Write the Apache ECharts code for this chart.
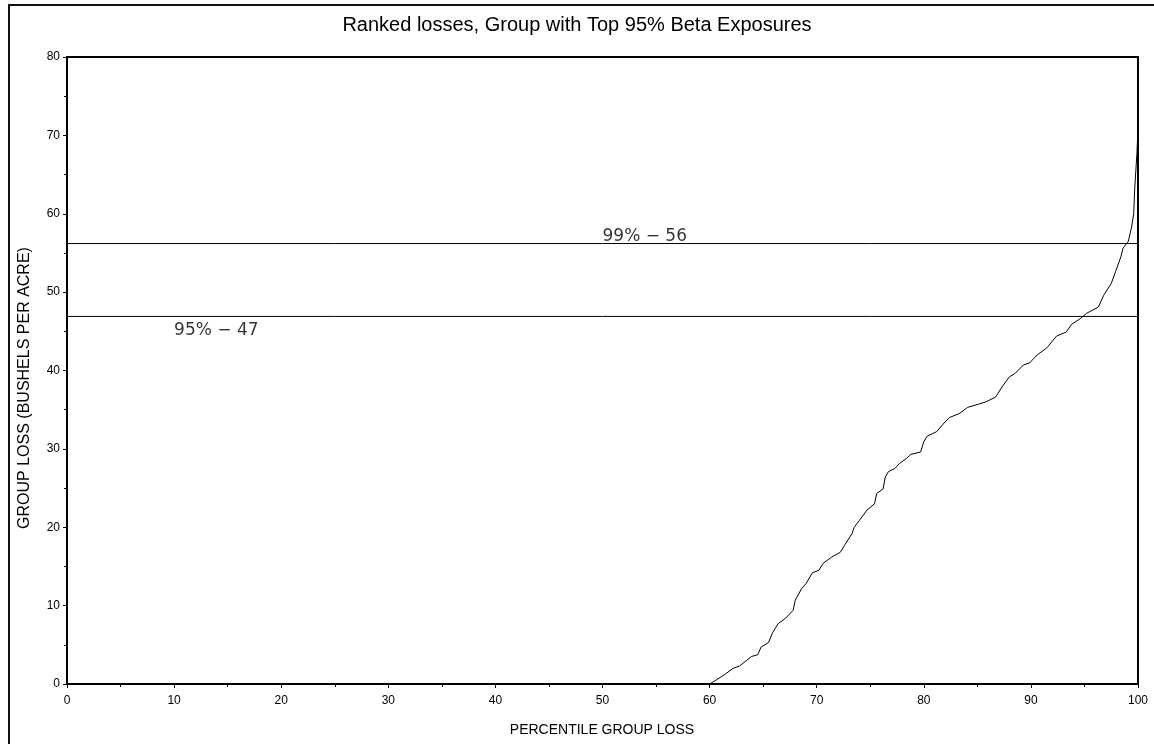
<!DOCTYPE html>
<html>
<head>
<meta charset="utf-8">
<script src="https://cdn.jsdelivr.net/npm/echarts@6/dist/echarts.min.js"></script>
<style>
  html, body { margin: 0; padding: 0; background: #fff; }
  #chart { width: 1154px; height: 744px; }
</style>
</head>
<body>
<div id="chart"></div>
<script>
// ---- data ----
const titleText = 'Ranked losses, Group with Top 95% Beta Exposures';
const xAxisTitle = 'PERCENTILE GROUP LOSS';
const yAxisTitle = 'GROUP LOSS (BUSHELS PER ACRE)';

const percentile = [0, 60, 60.6, 61.4, 62.2, 62.8, 63.9, 64.5, 64.8, 65.5,
  65.9, 66.4, 67.1, 67.8, 68.0, 68.6, 69.0, 69.6, 70.2, 70.6,
  71.4, 72.2, 72.6, 73.3, 73.5, 74.0, 74.7, 75.4, 75.6, 76.2,
  76.4, 76.7, 77.3, 77.7, 78.4, 78.8, 79.7, 80.0, 80.3, 81.2,
  81.9, 82.4, 83.3, 84.1, 85.1, 85.8, 86.7, 87.3, 88.0, 88.5,
  89.3, 89.9, 90.6, 91.5, 92.4, 93.3, 93.8, 94.6, 95.2, 96.3,
  96.8, 97.5, 97.9, 98.4, 98.6, 99.1, 99.4, 99.6, 99.7, 99.9, 100];
const groupLoss = [0, 0, 0.5, 1.2, 2.0, 2.3, 3.5, 3.75, 4.7, 5.3,
  6.6, 7.7, 8.4, 9.4, 10.7, 12.2, 12.8, 14.2, 14.5, 15.4,
  16.2, 16.8, 17.7, 19.2, 20.0, 20.9, 22.2, 23.0, 24.3, 24.9,
  26.4, 27.1, 27.5, 28.1, 28.8, 29.3, 29.6, 30.9, 31.6, 32.2,
  33.3, 34.0, 34.5, 35.3, 35.7, 36.0, 36.6, 37.9, 39.2, 39.6,
  40.7, 41.0, 42.0, 42.9, 44.4, 44.9, 45.9, 46.6, 47.3, 48.1,
  49.6, 51.1, 52.6, 54.5, 55.6, 56.5, 58.3, 60.0, 63.4, 67.7, 71];

const refLevels = [56.2, 46.9];
const refLabels = ['99% \u2212 56', '95% \u2212 47'];
const refLabelX = [50, 10];

// ---- chart ----
const chart = echarts.init(document.getElementById('chart'), null, { renderer: 'canvas' });

const curve = percentile.map((p, i) => [p, groupLoss[i]]);

const refSeries = refLevels.map((lv, i) => ({
  type: 'line',
  data: [[0, lv], [100, lv]],
  symbol: 'none',
  silent: true,
  lineStyle: { color: '#000', width: 1 },
  z: 3
}));

const labelFont = { color: '#000', fontFamily: 'DejaVu Sans', fontSize: 17 };
const labelSeries = {
  type: 'scatter',
  symbolSize: 0,
  silent: true,
  data: refLabels.map((t, i) => ({
    value: [refLabelX[i], refLevels[i]],
    label: Object.assign({}, labelFont, i === 0
      ? { show: true, formatter: t, position: 'top', distance: -2, align: 'left', verticalAlign: 'bottom' }
      : { show: true, formatter: t, position: 'bottom', distance: 6, align: 'left', verticalAlign: 'top' })
  })),
  label: labelFont,
  z: 4
};

const axisCommon = {
  type: 'value',
  axisLine: { show: true, lineStyle: { color: '#000', width: 2 } },
  axisTick: { show: true, inside: false, length: 4, lineStyle: { color: '#000', width: 1 } },
  minorTick: { show: true, splitNumber: 2, length: 3, lineStyle: { color: '#000', width: 1 } },
  splitLine: { show: false },
  axisLabel: { color: '#000', fontFamily: 'Liberation Sans', fontSize: 12 }
};

chart.setOption({
  animation: false,
  backgroundColor: '#fff',
  title: {
    text: titleText,
    left: 'center',
    top: 10,
    textStyle: { fontFamily: 'Liberation Sans', fontSize: 20, fontWeight: 'normal', color: '#000' }
  },
  grid: {
    left: 67, right: 16, top: 57, bottom: 60,
    show: true, borderColor: '#000', borderWidth: 2, backgroundColor: 'transparent'
  },
  xAxis: Object.assign({}, axisCommon, {
    min: 0, max: 100, interval: 10,
    axisLabel: Object.assign({}, axisCommon.axisLabel, { margin: 11 })
  }),
  yAxis: Object.assign({}, axisCommon, {
    min: 0, max: 80, interval: 10,
    axisLabel: Object.assign({}, axisCommon.axisLabel, { margin: 7 })
  }),
  graphic: [
    {
      type: 'rect',
      shape: { x: 9, y: 5, width: 1300, height: 900 },
      style: { fill: null, stroke: '#111', lineWidth: 2 },
      silent: true
    },
    {
      type: 'text',
      x: 602, y: 730,
      style: { text: xAxisTitle, fontFamily: 'Liberation Sans', fontSize: 14, fill: '#000', align: 'center', verticalAlign: 'middle' }
    },
    {
      type: 'text',
      x: 25, y: 388,
      rotation: Math.PI / 2,
      style: { text: yAxisTitle, fontFamily: 'Liberation Sans', fontSize: 16, fill: '#000', align: 'center', verticalAlign: 'middle' }
    }
  ],
  series: [
    {
      type: 'line',
      data: curve,
      symbol: 'none',
      smooth: false,
      lineStyle: { color: '#000', width: 1 },
      z: 5
    }
  ].concat(refSeries, [labelSeries])
});
</script>
</body>
</html>
